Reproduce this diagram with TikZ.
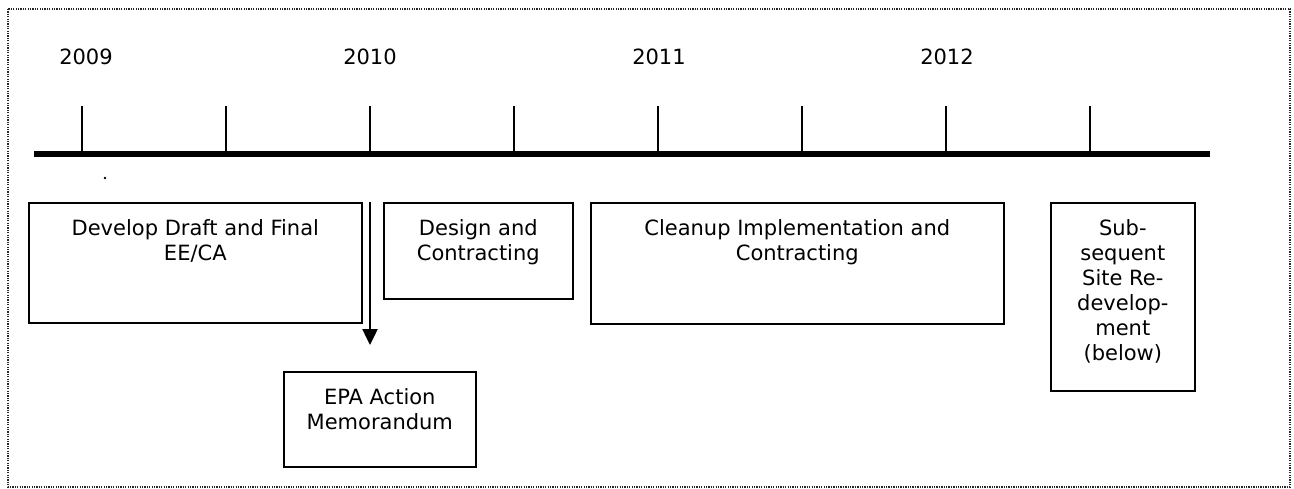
\documentclass[tikz,border=0pt]{standalone}
\usepackage{fontspec}
\setmainfont{DejaVu Sans}
\usetikzlibrary{arrows.meta,positioning}
\begin{document}
\begin{tikzpicture}[x=1pt,y=-1pt]
\tikzstyle{stage}=[draw,line width=1.6pt,anchor=north west,inner sep=0pt]
\tikzstyle{stagetext}=[anchor=north,align=center,inner sep=0pt,yshift=-17pt,font=\fontsize{21}{25}\selectfont]
\tikzstyle{tick}=[line width=1.6pt]
\tikzstyle{year}=[anchor=base,inner sep=0pt,font=\fontsize{21}{25}\selectfont]

\useasboundingbox (0,0) rectangle (1294,489);
\draw[line width=1.4pt,black!85,dash pattern=on 1.3pt off 1.1pt] (8,9) rectangle (1290,487);

% time line
\coordinate (start) at (34,154);
\coordinate (end) at (1210,154);
\draw[line width=5.5pt] (start) -- (end);

\coordinate (t0) at (82,154);
\coordinate (t1) at (226,154);
\coordinate (t2) at (370,154);
\coordinate (t3) at (514,154);
\coordinate (t4) at (658,154);
\coordinate (t5) at (802,154);
\coordinate (t6) at (946,154);
\coordinate (t7) at (1090,154);

\draw[tick] (t0) -- ++(0,-48);
\draw[tick] (t1) -- ++(0,-48);
\draw[tick] (t2) -- ++(0,-48);
\draw[tick] (t3) -- ++(0,-48);
\draw[tick] (t4) -- ++(0,-48);
\draw[tick] (t5) -- ++(0,-48);
\draw[tick] (t6) -- ++(0,-48);
\draw[tick] (t7) -- ++(0,-48);

\node[year] (y2009) at (86,65) {2009};
\node[year] (y2010) at (370,65) {2010};
\node[year] (y2011) at (659,65) {2011};
\node[year] (y2012) at (947,65) {2012};

\fill (105,178) circle (1.3);

% stages
\node[stage,minimum width=333pt,minimum height=120pt] (dev) at (28,202) {};
\node[stagetext] (devtext) at (dev.north) {Develop Draft and Final\\EE/CA};

\node[stage,minimum width=189pt,minimum height=96pt] (design) at (383,202) {};
\node[stagetext] (designtext) at (design.north) {Design and\\Contracting};

\node[stage,minimum width=413pt,minimum height=121pt] (cleanup) at (590,202) {};
\node[stagetext] (cleanuptext) at (cleanup.north) {Cleanup Implementation and\\Contracting};

\node[stage,minimum width=144pt,minimum height=188pt] (redev) at (1050,202) {};
\node[stagetext] (redevtext) at (redev.north) {Sub-\\sequent\\Site Re-\\develop-\\ment\\(below)};

\node[stage,minimum width=192pt,minimum height=95pt] (memo) at (283,371) {};
\node[stagetext] (memotext) at (memo.north) {EPA Action\\Memorandum};

\coordinate (tip) at (370,345);
\draw[line width=2.5pt,-{Triangle[width=15pt,length=16pt]}] (dev.north -| t2) -- (tip);

\end{tikzpicture}
\end{document}
